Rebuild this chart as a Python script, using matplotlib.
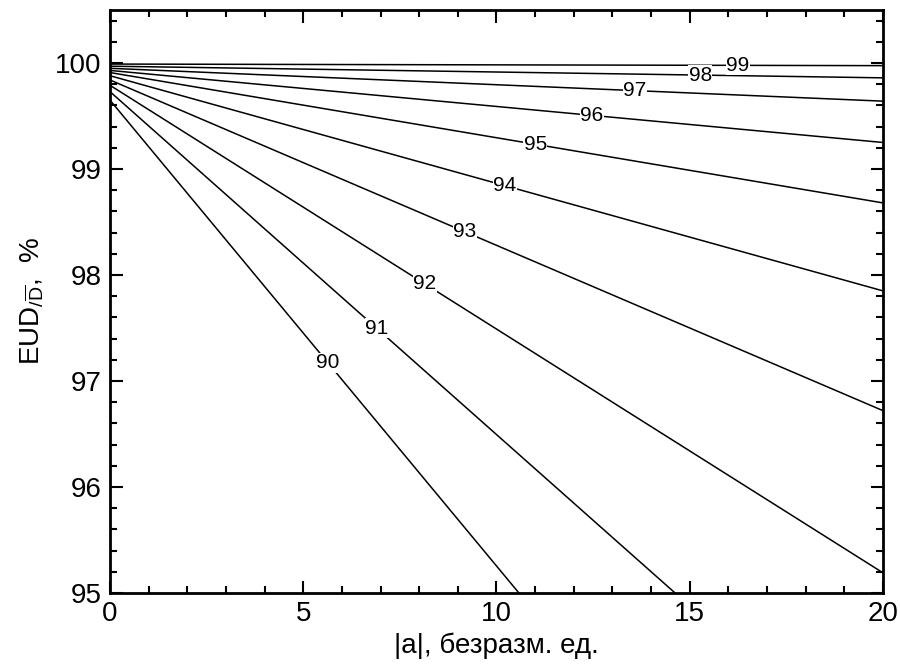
import numpy as np
import matplotlib
matplotlib.use('Agg')
import matplotlib.pyplot as plt
from matplotlib.ticker import MultipleLocator

plt.rcParams['font.family'] = ['Liberation Sans', 'DejaVu Sans']
plt.rcParams['mathtext.fontset'] = 'custom'
plt.rcParams['mathtext.rm'] = 'Liberation Sans'
plt.rcParams['mathtext.it'] = 'Liberation Sans'

# данные
levels = ['90', '91', '92', '93', '94', '95', '96', '97', '98', '99']
y_start = [99.65, 99.73, 99.79, 99.84, 99.88, 99.91, 99.93, 99.95, 99.97, 99.99]
x_end = [10.58, 14.62, 20, 20, 20, 20, 20, 20, 20, 20]
y_end = [95.0, 95.0, 95.19, 96.72, 97.85, 98.68, 99.25, 99.64, 99.86, 99.975]
label_x = [5.64, 6.90, 8.15, 9.18, 10.22, 11.0, 12.47, 13.58, 15.27, 16.25]

fig = plt.figure(figsize=(9, 6.67), dpi=100)
ax = fig.add_axes([0.1222, 0.111, 0.8589, 0.874])

for lev, y0, xe, ye, lx in zip(levels, y_start, x_end, y_end, label_x):
    ax.plot([0, xe], [y0, ye], color='black', lw=1.1, zorder=2)
    ly = y0 + (ye - y0) * lx / xe
    ax.text(lx, ly, lev, fontsize=15, ha='center', va='center', zorder=3,
            bbox=dict(facecolor='white', edgecolor='none', pad=0.3))

ax.set_xlim(0, 20)
ax.set_ylim(95, 100.5)
ax.xaxis.set_major_locator(MultipleLocator(5))
ax.xaxis.set_minor_locator(MultipleLocator(1))
ax.yaxis.set_major_locator(MultipleLocator(1))
ax.yaxis.set_minor_locator(MultipleLocator(0.2))
ax.tick_params(which='both', direction='in', top=True, right=True, labelsize=20, width=1.5)
ax.tick_params(which='major', length=9, pad=6)
ax.tick_params(which='minor', length=5)
for s in ax.spines.values():
    s.set_linewidth(2)

ax.set_xlabel('|a|, безразм. ед.', fontsize=20, labelpad=4)
ax.set_ylabel(r'EUD$_{/\overline{\mathrm{D}}}$,  %', fontsize=20, labelpad=6)

fig.savefig('out.png', dpi=100)
